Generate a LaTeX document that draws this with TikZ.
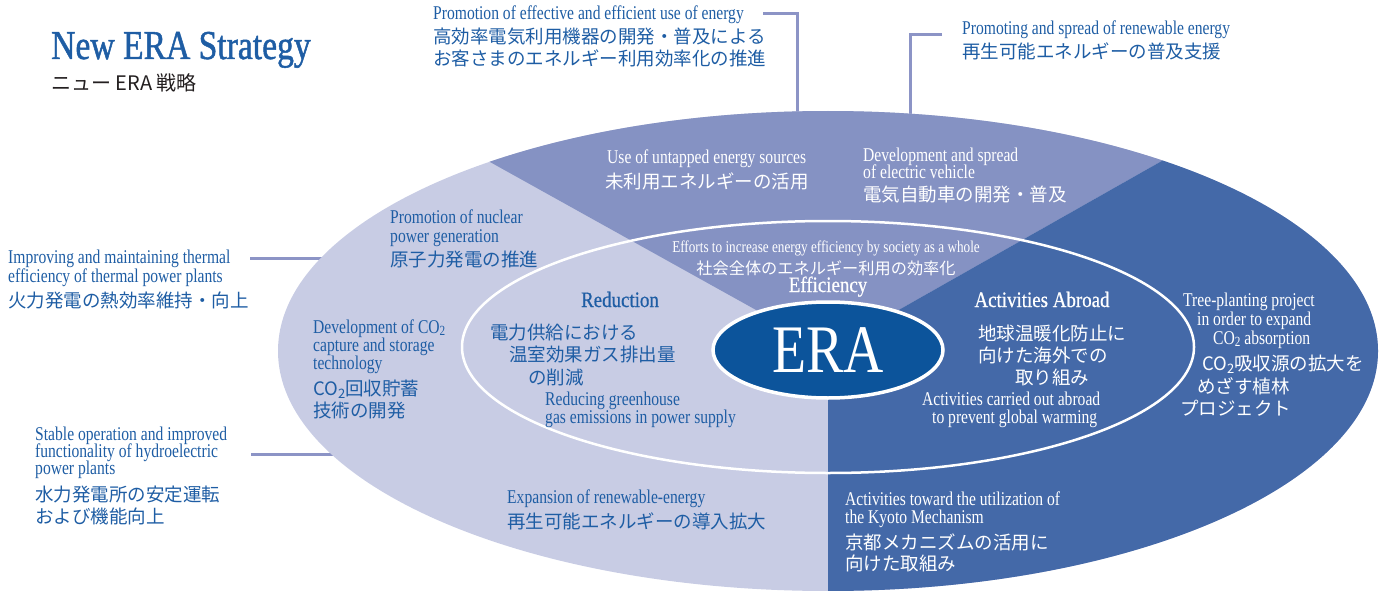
\documentclass[tikz,border=0pt]{standalone}
\usepackage{fontspec}
\usetikzlibrary{shapes.geometric}
\newfontfamily\fEn{Liberation Serif}[FakeStretch=0.8]
\newfontfamily\fEnw{Liberation Serif}[FakeStretch=0.86,FakeBold=0.6]
\newfontfamily\fTtl{Liberation Serif}[FakeStretch=0.82,FakeBold=1.2]
\newfontfamily\fEra{Liberation Serif}[FakeStretch=0.82]
\newfontfamily\fJp{Noto Sans CJK JP}
\definecolor{lightreg}{RGB}{200,204,228}
\definecolor{midreg}{RGB}{133,146,195}
\definecolor{darkreg}{RGB}{68,105,168}
\definecolor{erablue}{RGB}{12,84,155}
\definecolor{txtblue}{RGB}{30,93,164}
\definecolor{conn}{RGB}{140,148,198}
\definecolor{subgrey}{RGB}{35,31,32}
\newcommand\sbtwo[1]{\raisebox{-0.15em}{\fontsize{#1}{#1}\selectfont 2}}
\begin{document}
\begin{tikzpicture}[x=1pt,y=-1pt,
  en/.style={font=\fEn\fontsize{19.5}{19.5}\selectfont, inner sep=0pt, anchor=base west, text=txtblue},
  jp/.style={font=\fJp\fontsize{18.5}{18.5}\selectfont, inner sep=0pt, anchor=west, text=txtblue},
  head/.style={font=\fEnw\fontsize{22}{22}\selectfont, inner sep=0pt, anchor=base},
  wht/.style={text=white},
  connector/.style={draw=conn, line width=3pt}]
\useasboundingbox (0,0) rectangle (1383,591);

% connectors
\coordinate (c1a) at (763,14);
\coordinate (c1b) at (797,118);
\coordinate (c2a) at (942,35);
\coordinate (c2b) at (910,118);
\coordinate (c3a) at (250,258);
\coordinate (c3b) at (330,258);
\coordinate (c4a) at (251,454);
\coordinate (c4b) at (340,454);
\draw[connector] (c1a) -| (c1b);
\draw[connector] (c2a) -| (c2b);
\draw[connector] (c3a) -- (c3b);
\draw[connector] (c4a) -- (c4b);

% big ellipse with sectors
\begin{scope}
  \clip (828,351) ellipse [x radius=550, y radius=240];
  \fill[lightreg] (200,0) rectangle (1400,700);
  \fill[midreg] (828,350) -- (152,-26) -- (1492,-26) -- cycle;
  \fill[darkreg] (828,350) -- (1492,-26) -- (1500,700) -- (828,700) -- cycle;
\end{scope}
% inner ellipse
\draw[white, line width=2.5pt] (828,347) ellipse [x radius=366, y radius=126];
% ERA
\node[ellipse, draw=white, line width=3.5pt, fill=erablue, minimum width=230pt, minimum height=96pt, inner sep=0pt] (era) at (828,350) {};
\node[font=\fEra\fontsize{68}{68}\selectfont, text=white, inner sep=0pt] (eratxt) at (828,350) {ERA};

% title
\node[font=\fTtl\fontsize{41}{41}\selectfont, text=txtblue, inner sep=0pt, anchor=base west] (title) at (51,59) {New ERA Strategy};
\node[jp, text=subgrey, font=\fJp\fontsize{20}{20}\selectfont] (subtitle) at (51,83) {ニュー ERA 戦略};

% A
\node[en] (a1) at (433,20) {Promotion of effective and efficient use of energy};
\node[jp] (a2) at (433,37) {高効率電気利用機器の開発・普及による};
\node[jp] (a3) at (433,58) {お客さまのエネルギー利用効率化の推進};
% B
\node[en] (b1) at (962,35) {Promoting and spread of renewable energy};
\node[jp] (b2) at (962,51) {再生可能エネルギーの普及支援};
% C
\node[en, wht] (c1) at (607,163) {Use of untapped energy sources};
\node[jp, wht] (c2) at (605,181) {未利用エネルギーの活用};
% D
\node[en, wht] (d1) at (863,161) {Development and spread};
\node[en, wht] (d2) at (863,178) {of electric vehicle};
\node[jp, wht] (d3) at (863,195) {電気自動車の開発・普及};
% E
\node[en, wht, anchor=base, font=\fEn\fontsize{16.5}{16.5}\selectfont] (e1) at (826,252) {Efforts to increase energy efficiency by society as a whole};
\node[jp, wht, anchor=center, font=\fJp\fontsize{16.2}{16.2}\selectfont] (e2) at (826,268) {社会全体のエネルギー利用の効率化};
\node[head, wht] (e3) at (828,292) {Efficiency};
% F
\node[head, text=txtblue] (f0) at (620,307) {Reduction};
\node[jp] (f1) at (490,333) {電力供給における};
\node[jp] (f2) at (509,355) {温室効果ガス排出量};
\node[jp] (f3) at (528,377) {の削減};
\node[en] (f4) at (545,405) {Reducing greenhouse};
\node[en] (f5) at (545,423) {gas emissions in power supply};
% G
\node[head, wht] (g0) at (1042,307) {Activities Abroad};
\node[jp, wht] (g1) at (978,333) {地球温暖化防止に};
\node[jp, wht] (g2) at (978,355) {向けた海外での};
\node[jp, wht] (g3) at (1015,377) {取り組み};
\node[en, wht] (g4) at (922,405) {Activities carried out abroad};
\node[en, wht] (g5) at (932,423) {to prevent global warming};
% H
\node[en, wht] (h1) at (1183,306) {Tree-planting project};
\node[en, wht] (h2) at (1197,325) {in order to expand};
\node[en, wht] (h3) at (1213,344) {CO\sbtwo{14} absorption};
\node[jp, wht] (h4) at (1202,364) {CO\sbtwo{13}吸収源の拡大を};
\node[jp, wht] (h5) at (1197,386) {めざす植林};
\node[jp, wht] (h6) at (1180,408) {プロジェクト};
% I
\node[en] (i1) at (390,223) {Promotion of nuclear};
\node[en] (i2) at (390,242) {power generation};
\node[jp] (i3) at (390,259) {原子力発電の推進};
% J
\node[en] (j1) at (313,333) {Development of CO\sbtwo{14}};
\node[en] (j2) at (313,351) {capture and storage};
\node[en] (j3) at (313,369) {technology};
\node[jp] (j4) at (313,389) {CO\sbtwo{13}回収貯蓄};
\node[jp] (j5) at (313,411) {技術の開発};
% K1
\node[en] (k1) at (8,263) {Improving and maintaining thermal};
\node[en] (k2) at (8,282) {efficiency of thermal power plants};
\node[jp] (k3) at (8,300) {火力発電の熱効率維持・向上};
% K2
\node[en] (k4) at (35,440) {Stable operation and improved};
\node[en] (k5) at (35,457) {functionality of hydroelectric};
\node[en] (k6) at (35,474) {power plants};
\node[jp] (k7) at (35,495) {水力発電所の安定運転};
\node[jp] (k8) at (35,516) {および機能向上};
% L
\node[en] (l1) at (507,503) {Expansion of renewable-energy};
\node[jp] (l2) at (507,521) {再生可能エネルギーの導入拡大};
% M
\node[en, wht] (m1) at (845,505) {Activities toward the utilization of};
\node[en, wht] (m2) at (845,523) {the Kyoto Mechanism};
\node[jp, wht] (m3) at (845,542) {京都メカニズムの活用に};
\node[jp, wht] (m4) at (845,563) {向けた取組み};
\end{tikzpicture}
\end{document}
